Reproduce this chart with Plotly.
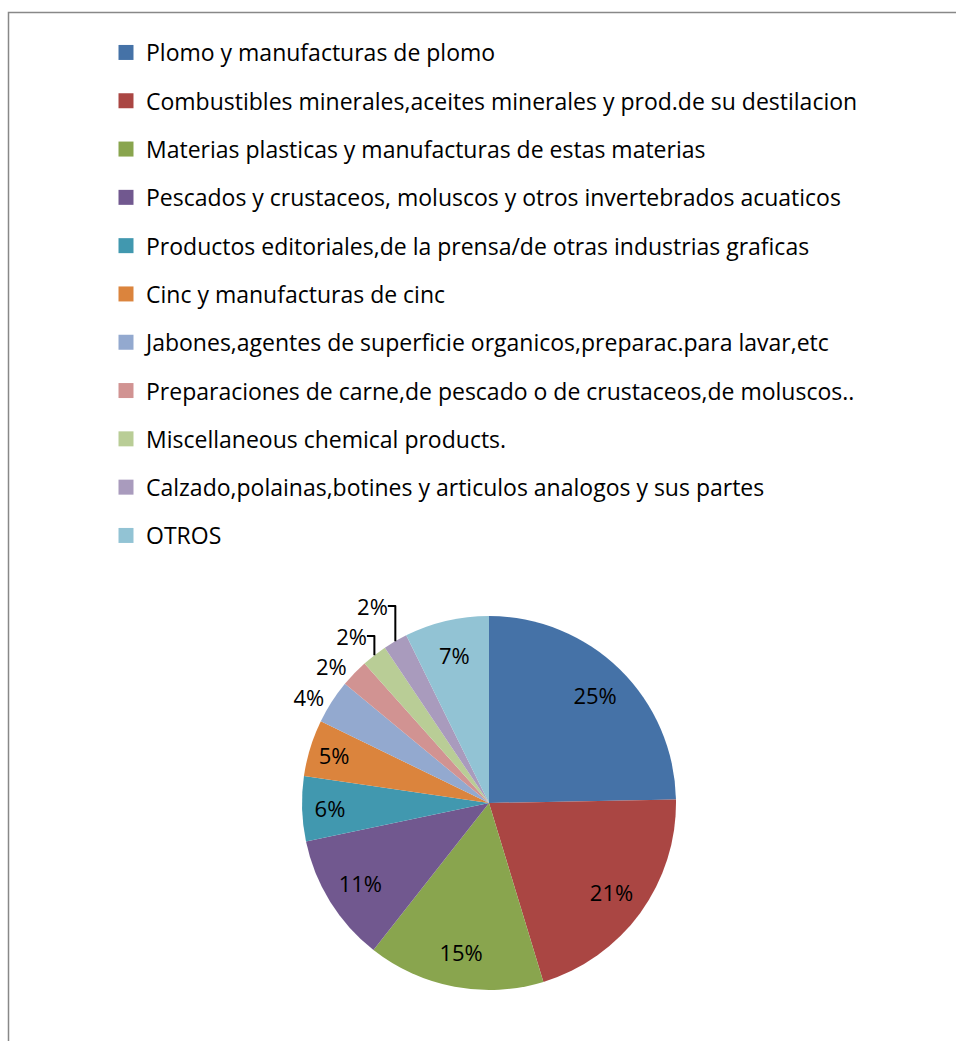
import plotly.graph_objects as go

categories = [
    "Plomo y manufacturas de plomo",
    "Combustibles minerales,aceites minerales y prod.de su destilacion",
    "Materias plasticas y manufacturas de estas materias",
    "Pescados y crustaceos, moluscos y otros invertebrados acuaticos",
    "Productos editoriales,de la prensa/de otras industrias graficas",
    "Cinc y manufacturas de cinc",
    "Jabones,agentes de superficie organicos,preparac.para lavar,etc",
    "Preparaciones de carne,de pescado o de crustaceos,de moluscos..",
    "Miscellaneous chemical products.",
    "Calzado,polainas,botines y articulos analogos y sus partes",
    "OTROS",
]
shares = [24.7, 20.6, 15.3, 11.1, 5.6, 4.9, 3.8, 2.4, 2.2, 2.1, 7.3]
colors = ["#4572A7", "#AA4643", "#89A54E", "#71588F", "#4198AF", "#DB843D",
          "#93A9CF", "#D19392", "#B9CD96", "#A99BBD", "#92C3D4"]
text_pos = ["inside"] * 6 + ["outside"] * 4 + ["inside"]

W, H = 956, 1041
cx, cy, r = 489, 803, 187
FONT = "Open Sans"
FS = 23

domain = dict(x=[(cx - r) / W, (cx + r) / W],
              y=[(H - cy - r) / H, (H - cy + r) / H])

fig = go.Figure()
# coloured slices
fig.add_trace(go.Pie(
    labels=categories, values=shares, sort=False, direction="clockwise",
    rotation=0, marker=dict(colors=colors, line=dict(width=0)),
    textinfo="none", showlegend=False, domain=domain,
    hoverinfo="label+percent",
))
# transparent ring carrying the percentage labels
fig.add_trace(go.Pie(
    labels=categories, values=shares, sort=False, direction="clockwise",
    rotation=0, hole=0.62,
    marker=dict(colors=["rgba(0,0,0,0)"] * len(shares), line=dict(width=0)),
    texttemplate="%{percent:.0%}", textposition=text_pos,
    insidetextorientation="horizontal",
    textfont=dict(family=FONT, size=FS - 1, color="black"),
    showlegend=False, domain=domain, hoverinfo="skip",
))
for name, col in zip(categories, colors):
    fig.add_trace(go.Scatter(
        x=[None], y=[None], mode="markers", name=name, legendgroup=name,
        marker=dict(symbol="square", size=15, color=col),
    ))

fig.add_shape(type="rect", xref="paper", yref="paper",
              x0=8.5 / W, x1=1.05, y0=-0.05, y1=1 - 12.5 / H,
              line=dict(color="#888888", width=1.5))

fig.update_layout(
    width=W, height=H, margin=dict(l=0, r=0, t=0, b=0),
    paper_bgcolor="white", plot_bgcolor="white",
    xaxis=dict(visible=False), yaxis=dict(visible=False),
    showlegend=True,
    legend=dict(x=106 / W, y=1 - 31 / H, xanchor="left", yanchor="top",
                font=dict(family=FONT, size=FS, color="black"),
                tracegroupgap=48.3 - (1.3 * FS + 3), bgcolor="rgba(0,0,0,0)"),
    font=dict(family=FONT),
)
fig.write_html(
    "out.html",
    config={"displayModeBar": False},
    post_script="document.body.style.margin='0';document.body.style.overflow='hidden';",
)
